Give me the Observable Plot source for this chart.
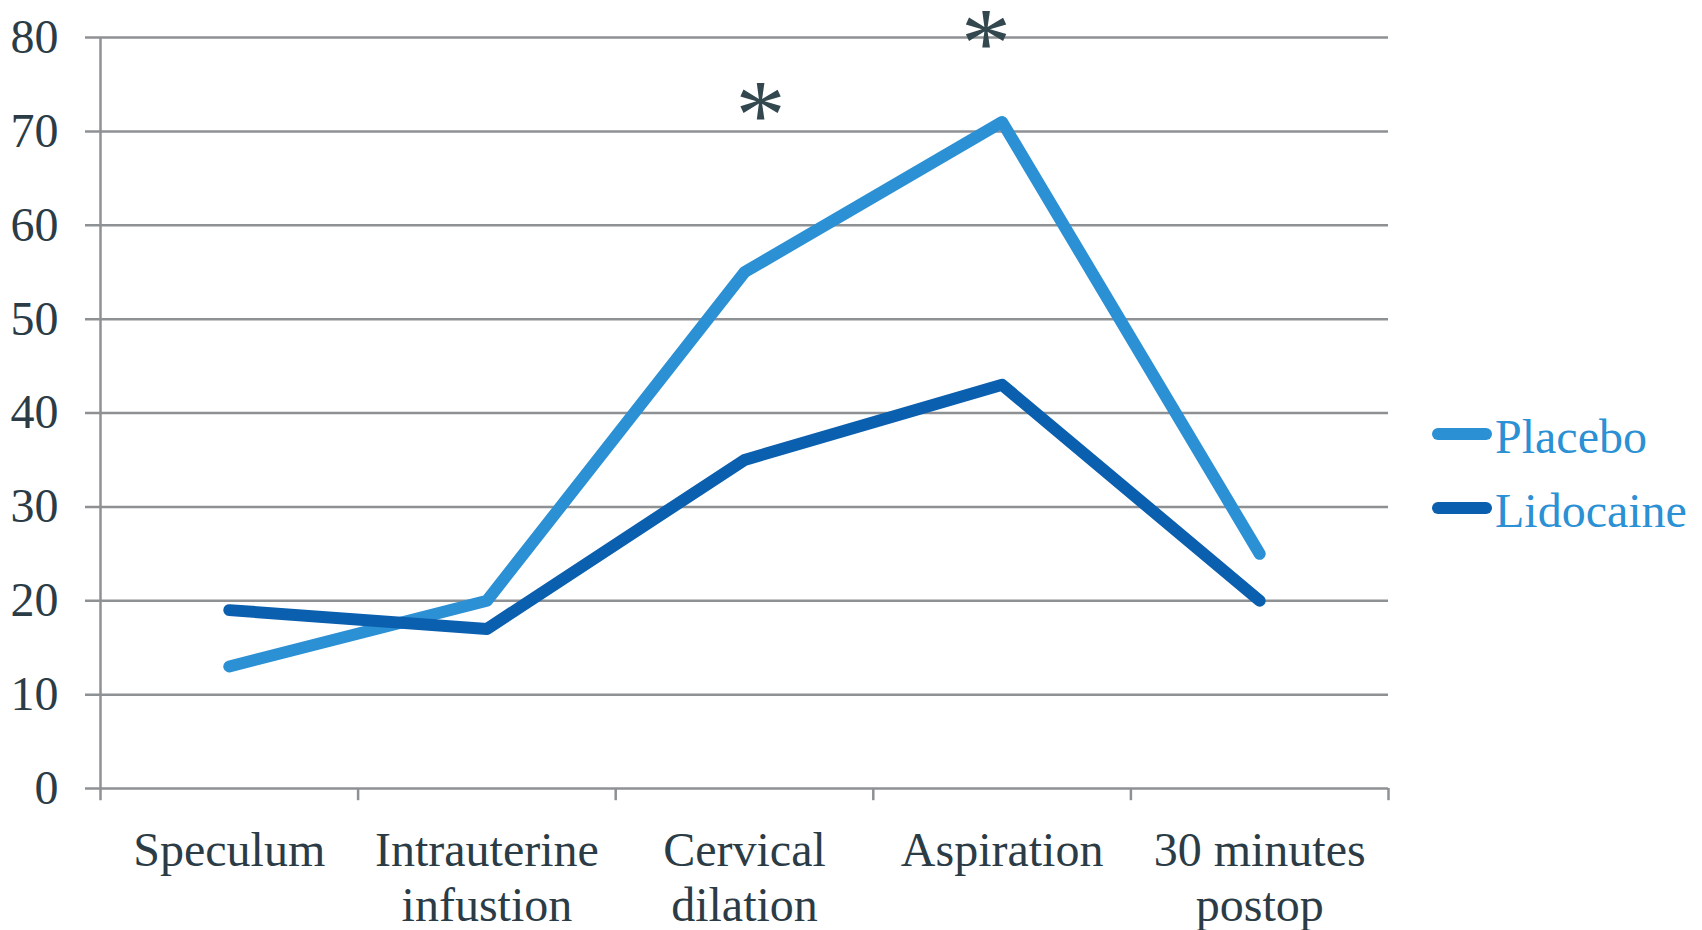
<!DOCTYPE html>
<html><head><meta charset="utf-8">
<script src="https://cdn.jsdelivr.net/npm/d3@7"></script>
<script src="https://cdn.jsdelivr.net/npm/@observablehq/plot@0.6"></script>
<style>
body{margin:0;background:#fff;}
#wrap{position:relative;width:1702px;height:930px;overflow:hidden;}
.sw{position:absolute;width:60px;height:12px;border-radius:6px;}
.lt{position:absolute;font-family:"Liberation Serif";font-size:48px;line-height:48px;color:#2B90D4;white-space:nowrap;}
</style></head>
<body><div id="wrap"></div>
<script>
const categories = ["Speculum", "Intrauterine infustion", "Cervical dilation", "Aspiration", "30 minutes postop"];
const tickLabels = ["Speculum", "Intrauterine\ninfustion", "Cervical\ndilation", "Aspiration", "30 minutes\npostop"];
const placebo = [13, 20, 55, 71, 25];
const lidocaine = [19, 17, 35, 43, 20];
const yTicks = [0, 10, 20, 30, 40, 50, 60, 70, 80];
const seriesNames = ["Placebo", "Lidocaine"];
const seriesColors = ["#2B90D4", "#0B5FAF"];
const asteriskCategories = ["Cervical dilation", "Aspiration"];
const asteriskValues = [71.6, 79.3];

const rows = [
  ...categories.map((c, i) => ({series: "Placebo", category: c, value: placebo[i]})),
  ...categories.map((c, i) => ({series: "Lidocaine", category: c, value: lidocaine[i]}))
];
const pos = c => categories.indexOf(c) + 0.5;
const boundaries = d3.range(categories.length + 1);
const stars = asteriskCategories.map((c, i) => ({category: c, value: asteriskValues[i]}));

const grid = "#8E9194";
const ink = "#2B3C46";
const starStyle = {x: d => pos(d.category), y: "value", text: () => "*", fontSize: 100, fill: "#33474F", lineAnchor: "middle"};

const chart = Plot.plot({
  width: 1702,
  height: 930,
  marginLeft: 100,
  marginRight: 314,
  marginTop: 37,
  marginBottom: 142,
  style: {fontFamily: "Liberation Serif", background: "white", overflow: "visible"},
  x: {type: "linear", domain: [0, categories.length], axis: null},
  y: {domain: [0, 80], axis: null},
  color: {domain: seriesNames, range: seriesColors},
  marks: [
    Plot.ruleY(yTicks, {stroke: grid, strokeWidth: 2.5, insetLeft: -15}),
    Plot.ruleX([0], {y1: -1.3, y2: 80, stroke: grid, strokeWidth: 2.5}),
    Plot.ruleX(boundaries.slice(1), {y1: -1.3, y2: 0, stroke: grid, strokeWidth: 2.5}),
    Plot.axisY({ticks: yTicks, tickSize: 0, tickPadding: 42, fontSize: 48, fill: ink, anchor: "left", label: null}),
    Plot.axisX({ticks: categories.map((c, i) => i + 0.5), tickFormat: v => tickLabels[Math.floor(v)], tickSize: 0, tickPadding: 39, fontSize: 48, fill: ink, lineHeight: 1.14, anchor: "bottom", label: null}),
    Plot.line(rows, {x: d => pos(d.category), y: "value", z: "series", stroke: "series", strokeWidth: 12, strokeLinecap: "round", strokeLinejoin: "round"}),
    Plot.text(stars.slice(0, 1), {...starStyle, dx: 16}),
    Plot.text(stars.slice(1), {...starStyle, dx: -16})
  ]
});
document.getElementById("wrap").appendChild(chart);

const wrap = document.getElementById("wrap");
const legendTops = [413, 487];
seriesNames.forEach((name, i) => {
  const sw = document.createElement("div");
  sw.className = "sw";
  sw.style.left = "1432px";
  sw.style.top = (legendTops[i] + 15) + "px";
  sw.style.background = seriesColors[i];
  wrap.appendChild(sw);
  const t = document.createElement("div");
  t.className = "lt";
  t.style.left = "1495px";
  t.style.top = legendTops[i] + "px";
  t.textContent = name;
  wrap.appendChild(t);
});
</script>
</body></html>
